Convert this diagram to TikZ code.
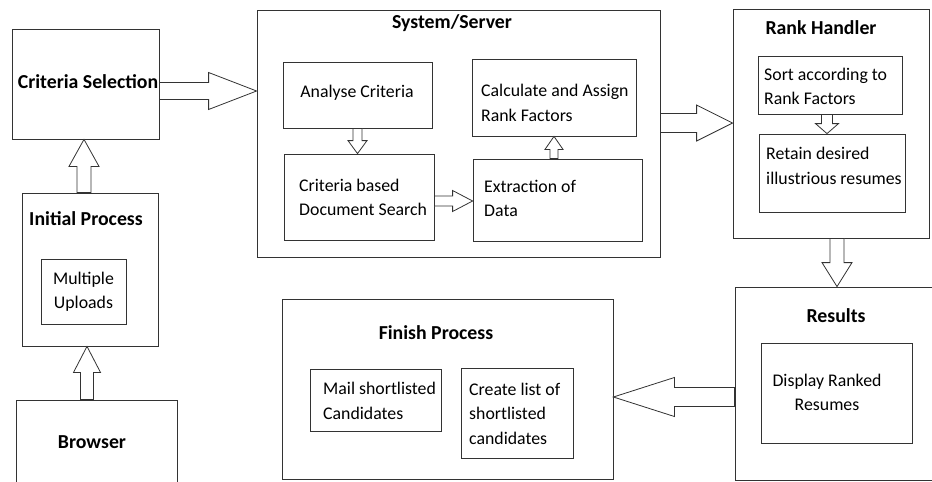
\documentclass[tikz,border=0pt]{standalone}
\usepackage{fontspec}
\setmainfont{Carlito}
\usetikzlibrary{calc}

% hollow block arrow: from, to, shaft half width, head half width, head length
\newcommand\blockarrow[5]{%
  \draw[blockarr] let \p1=(#1), \p2=(#2),
      \n1={veclen(\x2-\x1,\y2-\y1)}, \n2={atan2(\y2-\y1,\x2-\x1)} in
    ($(\p1)+(\n2+90:#3pt)$) -- ($(\p1)+(\n2:\n1-#5pt)+(\n2+90:#3pt)$)
    -- ($(\p1)+(\n2:\n1-#5pt)+(\n2+90:#4pt)$) -- (\p2)
    -- ($(\p1)+(\n2:\n1-#5pt)+(\n2-90:#4pt)$)
    -- ($(\p1)+(\n2:\n1-#5pt)+(\n2-90:#3pt)$)
    -- ($(\p1)+(\n2-90:#3pt)$) -- cycle;
}

\tikzset{
  box/.style 2 args={draw=black!80, line width=0.8pt, inner sep=0pt,
    minimum width=#1, minimum height=#2},
  blockarr/.style={draw=black!80, line width=0.8pt, fill=white, line join=miter},
  txt/.style={font=\fontsize{17.8}{24.5}\selectfont, inner sep=0pt, align=left},
  ttl/.style={font=\fontsize{19.8}{22}\selectfont\bfseries, inner sep=0pt}
}

\begin{document}
\begin{tikzpicture}[x=1pt, y=-1pt]
	\useasboundingbox (0,0) rectangle (932,482);
	\clip (0,0) rectangle (932,482);

	% Left column
	\node[box={147pt}{110pt}] (cs) at (85.5,84) {};
	\node[ttl] (cs-t) at (88,82) {Criteria Selection};

	\node[box={136pt}{153pt}] (ip) at (90,269.5) {};
	\node[ttl] (ip-t) at (86,219) {Initial Process};
	\node[box={85pt}{65pt}] (mu) at (83.5,291.5) {};
	\node[txt, align=center] (mu-t) at (83.5,292) {Multiple\\Uploads};

	\node[box={161pt}{120pt}] (br) at (96.5,460) {};
	\node[ttl] (br-t) at (92,442) {Browser};

	% System/Server
	\node[box={403pt}{247pt}] (sys) at (458.5,133.5) {};
	\node[ttl] (sys-t) at (452,23) {System/Server};
	\node[box={149pt}{66pt}] (ac) at (357.5,95) {};
	\node[txt] (ac-t) at (357,93) {Analyse Criteria};
	\node[box={150pt}{86pt}] (cds) at (359,197) {};
	\node[txt, anchor=west] (cds-t) at (299,197.5) {Criteria based\\Document Search};
	\node[box={169pt}{82pt}] (ext) at (557.5,200) {};
	\node[txt, anchor=west] (ext-t) at (484,198.5) {Extraction of\\Data};
	\node[box={164pt}{77pt}] (calc) at (554,97.5) {};
	\node[txt, anchor=west] (calc-t) at (481,103) {Calculate and Assign\\Rank Factors};

	% Rank Handler
	\node[box={196pt}{229pt}] (rank) at (831,123.5) {};
	\node[ttl] (rank-t) at (821,28) {Rank Handler};
	\node[box={144pt}{58pt}] (sort) at (830,85) {};
	\node[txt, anchor=west] (sort-t) at (764,86.5) {Sort according to\\Rank Factors};
	\node[box={146pt}{78pt}] (retain) at (832,173) {};
	\node[txt, anchor=west] (retain-t) at (766,166) {Retain desired\\illustrious resumes};

	% Results
	\node[box={215pt}{193pt}] (res) at (842.5,383.5) {};
	\node[ttl] (res-t) at (836,316) {Results};
	\node[box={151pt}{100pt}] (disp) at (836.5,393) {};
	\node[txt, align=center] (disp-t) at (827,392.5) {Display Ranked\\Resumes};

	% Finish Process
	\node[box={331pt}{180pt}] (fin) at (447.5,389) {};
	\node[ttl] (fin-t) at (436,333) {Finish Process};
	\node[box={131pt}{62pt}] (mail) at (375.5,400) {};
	\node[txt, anchor=west] (mail-t) at (323,401) {Mail shortlisted\\Candidates};
	\node[box={112pt}{90pt}] (create) at (517,413) {};
	\node[txt, anchor=west] (create-t) at (469,413.5) {Create list of\\shortlisted\\candidates};

	% Block arrows between the stages
	\coordinate (a1) at ($(cs.east)+(0,7)$);
	\blockarrow{a1}{a1 -| sys.west}{8.5}{18.5}{48}
	\coordinate (a2) at ($(ip.north)+(-6,0)$);
	\blockarrow{a2}{a2 |- cs.south}{7}{15}{27}
	\coordinate (a3) at ($(br.north)+(-9.5,0)$);
	\blockarrow{a3}{a3 |- ip.south}{6.5}{13.5}{26}
	\blockarrow{ac.south}{ac.south |- cds.north}{4.5}{9.5}{13}
	\coordinate (a5) at ($(cds.east)+(0,4)$);
	\blockarrow{a5}{a5 -| ext.west}{5}{10.5}{20}
	\coordinate (a6) at ($(ext.north)+(-3.5,0)$);
	\blockarrow{a6}{a6 |- calc.south}{4}{9}{13}
	\coordinate (a7) at ($(sys.east)+(0,-10.5)$);
	\blockarrow{a7}{a7 -| rank.west}{9.5}{18}{36}
	\coordinate (a8) at ($(sort.south)+(-3,0)$);
	\blockarrow{a8}{a8 |- retain.north}{5.5}{11.5}{10}
	\coordinate (a9) at ($(rank.south)+(6,0)$);
	\blockarrow{a9}{a9 |- res.north}{7}{15}{24}
	\coordinate (a10) at ($(res.west)+(0,13.5)$);
	\blockarrow{a10}{a10 -| fin.east}{9.5}{19.5}{61}
\end{tikzpicture}
\end{document}
